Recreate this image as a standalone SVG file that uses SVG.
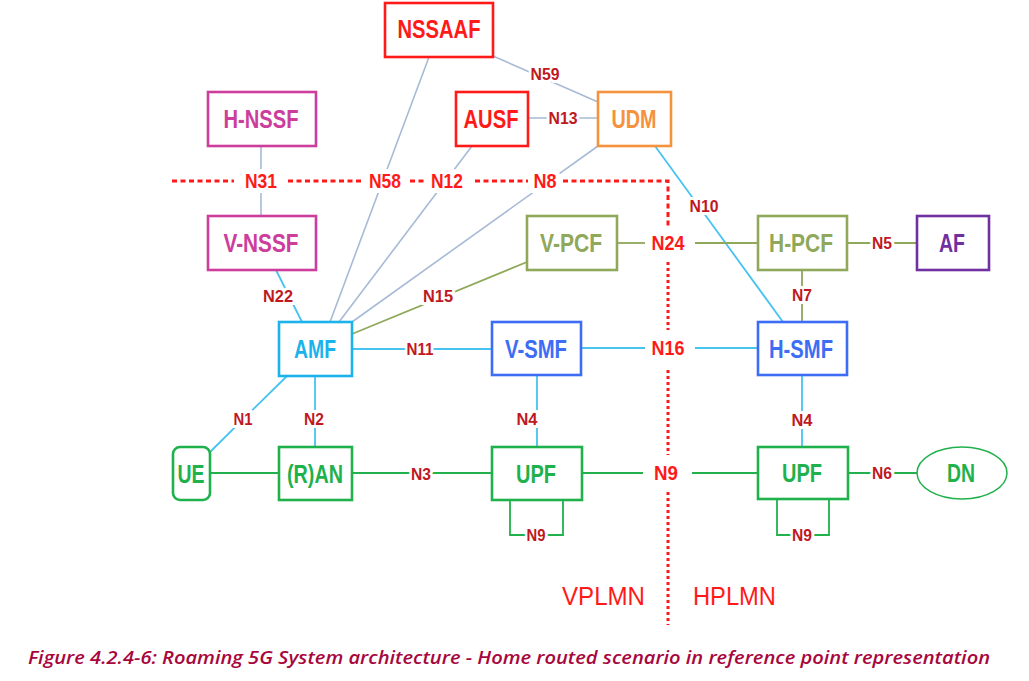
<svg xmlns="http://www.w3.org/2000/svg" width="1029" height="681" viewBox="0 0 1029 681">
<style>
.box{fill:#fff;stroke-width:2.6}
.nl{font-family:"Liberation Sans",Arial,sans-serif;font-weight:bold;font-size:25px;text-anchor:middle;dominant-baseline:central}
.il{font-family:"Liberation Sans",Arial,sans-serif;font-weight:bold;font-size:17px;text-anchor:middle;dominant-baseline:central;fill:#c0181f;stroke:#fff;stroke-width:6;paint-order:stroke}
.bl{font-family:"Liberation Sans",Arial,sans-serif;font-weight:bold;font-size:20px;text-anchor:middle;dominant-baseline:central;fill:#ff1a1a;stroke:#fff;stroke-width:10;paint-order:stroke}
.steel{stroke:#a7bad6;stroke-width:1.6;fill:none}
.cyan{stroke:#47c3f0;stroke-width:1.8;fill:none}
.olive{stroke:#8fa85a;stroke-width:1.8;fill:none}
.green{stroke:#22b14c;stroke-width:1.8;fill:none}
.bdr{stroke:#ff1a1a;stroke-width:3;fill:none;stroke-dasharray:5 3.5}
.bdrv{stroke:#ff1a1a;stroke-width:3;fill:none;stroke-dasharray:3 3}
</style>
<rect width="1029" height="681" fill="#fff"/>
<g id="connectors">
  <line class="steel" x1="493" y1="56" x2="598" y2="102"/>
  <line class="steel" x1="429" y1="57" x2="330" y2="322"/>
  <line class="steel" x1="472" y1="146" x2="339" y2="322"/>
  <line class="steel" x1="598" y1="146" x2="352" y2="322"/>
  <line class="steel" x1="528" y1="118" x2="598" y2="118"/>
  <line class="steel" x1="261" y1="146" x2="261" y2="216"/>
  <line class="cyan" x1="276" y1="270" x2="302" y2="322"/>
  <line class="cyan" x1="352" y1="349" x2="492" y2="349"/>
  <line class="cyan" x1="287" y1="376" x2="210" y2="452"/>
  <line class="cyan" x1="315" y1="376" x2="315" y2="447"/>
  <line class="cyan" x1="537" y1="376" x2="537" y2="447"/>
  <line class="cyan" x1="581" y1="348" x2="645" y2="348"/>
  <line class="cyan" x1="695" y1="348" x2="758" y2="348"/>
  <line class="cyan" x1="655" y1="146" x2="783" y2="322"/>
  <line class="cyan" x1="802" y1="375" x2="802" y2="447"/>
  <line class="olive" x1="352" y1="334" x2="527" y2="262"/>
  <line class="olive" x1="617" y1="243" x2="645" y2="243"/>
  <line class="olive" x1="695" y1="243" x2="758" y2="243"/>
  <line class="olive" x1="847" y1="243" x2="917" y2="243"/>
  <line class="olive" x1="802" y1="270" x2="802" y2="322"/>
  <line class="green" x1="210" y1="473" x2="279" y2="473"/>
  <line class="green" x1="352" y1="473" x2="492" y2="473"/>
  <line class="green" x1="582" y1="473" x2="643" y2="473"/>
  <line class="green" x1="692" y1="473" x2="758" y2="473"/>
  <line class="green" x1="848" y1="473" x2="917" y2="473"/>
  <polyline class="green" points="510,500 510,535 563,535 563,500"/>
  <polyline class="green" points="777,499 777,535 829,535 829,499"/>
  <g id="border">
    <line class="bdr" x1="172" y1="181" x2="234" y2="181"/>
    <line class="bdr" x1="288" y1="181" x2="362" y2="181"/>
    <line class="bdr" x1="410" y1="181" x2="424" y2="181"/>
    <line class="bdr" x1="475" y1="181" x2="528" y2="181"/>
    <polyline class="bdr" points="563,181 668,181 668,226"/>
    <line class="bdrv" x1="668" y1="262" x2="668" y2="330"/>
    <line class="bdrv" x1="668" y1="370" x2="668" y2="455"/>
    <line class="bdrv" x1="668" y1="492" x2="668" y2="625"/>
  </g>
  <g id="labels">
    <text class="il" x="545" y="74" textLength="29" lengthAdjust="spacingAndGlyphs">N59</text>
    <text class="il" x="563" y="118" textLength="29" lengthAdjust="spacingAndGlyphs">N13</text>
    <text class="il" x="278" y="296" textLength="30" lengthAdjust="spacingAndGlyphs">N22</text>
    <text class="il" x="438" y="296" textLength="30" lengthAdjust="spacingAndGlyphs">N15</text>
    <text class="il" x="420" y="349" textLength="27" lengthAdjust="spacingAndGlyphs">N11</text>
    <text class="il" x="704" y="206" textLength="29" lengthAdjust="spacingAndGlyphs">N10</text>
    <text class="il" x="882" y="243" textLength="20" lengthAdjust="spacingAndGlyphs">N5</text>
    <text class="il" x="802" y="295" textLength="20" lengthAdjust="spacingAndGlyphs">N7</text>
    <text class="il" x="243" y="419" textLength="19" lengthAdjust="spacingAndGlyphs">N1</text>
    <text class="il" x="314" y="419" textLength="20" lengthAdjust="spacingAndGlyphs">N2</text>
    <text class="il" x="527" y="419" textLength="21" lengthAdjust="spacingAndGlyphs">N4</text>
    <text class="il" x="421" y="474" textLength="20" lengthAdjust="spacingAndGlyphs">N3</text>
    <text class="il" x="536" y="535" textLength="19" lengthAdjust="spacingAndGlyphs">N9</text>
    <text class="il" x="802" y="420" textLength="21" lengthAdjust="spacingAndGlyphs">N4</text>
    <text class="il" x="882" y="473" textLength="20" lengthAdjust="spacingAndGlyphs">N6</text>
    <text class="il" x="802" y="535" textLength="20" lengthAdjust="spacingAndGlyphs">N9</text>
    <text class="bl" x="261" y="181" textLength="32" lengthAdjust="spacingAndGlyphs">N31</text>
    <text class="bl" x="385" y="181" textLength="32" lengthAdjust="spacingAndGlyphs">N58</text>
    <text class="bl" x="447" y="181" textLength="32" lengthAdjust="spacingAndGlyphs">N12</text>
    <text class="bl" x="545" y="181" textLength="23" lengthAdjust="spacingAndGlyphs">N8</text>
    <text class="bl" x="668" y="243" textLength="33" lengthAdjust="spacingAndGlyphs">N24</text>
    <text class="bl" x="668" y="348" textLength="33" lengthAdjust="spacingAndGlyphs">N16</text>
    <text class="bl" x="666" y="473" textLength="24" lengthAdjust="spacingAndGlyphs">N9</text>
  </g>
</g>
<g id="NSSAAF"><rect class="box" x="385" y="3" width="108" height="54" stroke="#ff1a1a"/><text class="nl" x="439" y="29" fill="#ff1a1a" textLength="83" lengthAdjust="spacingAndGlyphs">NSSAAF</text></g>
<g id="H-NSSF"><rect class="box" x="208" y="92" width="108" height="54" stroke="#cc3d9c"/><text class="nl" x="261" y="119" fill="#cc3d9c" textLength="75" lengthAdjust="spacingAndGlyphs">H-NSSF</text></g>
<g id="AUSF"><rect class="box" x="456" y="92" width="72" height="54" stroke="#ff1a1a"/><text class="nl" x="491" y="119" fill="#ff1a1a" textLength="55" lengthAdjust="spacingAndGlyphs">AUSF</text></g>
<g id="UDM"><rect class="box" x="598" y="92" width="73" height="54" stroke="#f5923e"/><text class="nl" x="634" y="119" fill="#f5923e" textLength="45" lengthAdjust="spacingAndGlyphs">UDM</text></g>
<g id="V-NSSF"><rect class="box" x="208" y="216" width="108" height="54" stroke="#cc3d9c"/><text class="nl" x="261" y="243" fill="#cc3d9c" textLength="75" lengthAdjust="spacingAndGlyphs">V-NSSF</text></g>
<g id="V-PCF"><rect class="box" x="527" y="216" width="90" height="54" stroke="#8fa85a"/><text class="nl" x="571" y="243" fill="#8fa85a" textLength="62" lengthAdjust="spacingAndGlyphs">V-PCF</text></g>
<g id="H-PCF"><rect class="box" x="758" y="216" width="89" height="54" stroke="#8fa85a"/><text class="nl" x="801" y="243" fill="#8fa85a" textLength="64" lengthAdjust="spacingAndGlyphs">H-PCF</text></g>
<g id="AF"><rect class="box" x="917" y="216" width="72" height="54" stroke="#7030a0"/><text class="nl" x="952" y="243" fill="#7030a0" textLength="26" lengthAdjust="spacingAndGlyphs">AF</text></g>
<g id="AMF"><rect class="box" x="279" y="322" width="73" height="54" stroke="#1cb3ec"/><text class="nl" x="315" y="349" fill="#1cb3ec" textLength="42" lengthAdjust="spacingAndGlyphs">AMF</text></g>
<g id="V-SMF"><rect class="box" x="492" y="322" width="89" height="53" stroke="#3d6df5"/><text class="nl" x="536" y="349" fill="#3d6df5" textLength="62" lengthAdjust="spacingAndGlyphs">V-SMF</text></g>
<g id="H-SMF"><rect class="box" x="758" y="322" width="89" height="53" stroke="#3d6df5"/><text class="nl" x="801" y="349" fill="#3d6df5" textLength="64" lengthAdjust="spacingAndGlyphs">H-SMF</text></g>
<g id="UE"><rect class="box" x="173" y="447" width="37" height="53" rx="7" stroke="#1fb14c"/><text class="nl" x="191" y="474" fill="#1fb14c" textLength="27" lengthAdjust="spacingAndGlyphs">UE</text></g>
<g id="RAN"><rect class="box" x="279" y="447" width="73" height="53" stroke="#1fb14c"/><text class="nl" x="315" y="474" fill="#1fb14c" textLength="56" lengthAdjust="spacingAndGlyphs">(R)AN</text></g>
<g id="V-UPF"><rect class="box" x="492" y="447" width="90" height="53" stroke="#1fb14c"/><text class="nl" x="536" y="474" fill="#1fb14c" textLength="40" lengthAdjust="spacingAndGlyphs">UPF</text></g>
<g id="H-UPF"><rect class="box" x="758" y="447" width="90" height="52" stroke="#1fb14c"/><text class="nl" x="802" y="473" fill="#1fb14c" textLength="40" lengthAdjust="spacingAndGlyphs">UPF</text></g>
<g id="DN"><ellipse cx="962" cy="473" rx="45" ry="26" fill="#fff" stroke="#1fb14c" stroke-width="1.5"/><text class="nl" x="961" y="473" fill="#1fb14c" textLength="28" lengthAdjust="spacingAndGlyphs">DN</text></g>
<g id="plmn">
  <text x="603.5" y="596" font-family="Liberation Sans,Arial,sans-serif" font-size="26" fill="#ff1a1a" text-anchor="middle" dominant-baseline="central" textLength="83" lengthAdjust="spacingAndGlyphs">VPLMN</text>
  <text x="734.5" y="596" font-family="Liberation Sans,Arial,sans-serif" font-size="26" fill="#ff1a1a" text-anchor="middle" dominant-baseline="central" textLength="83" lengthAdjust="spacingAndGlyphs">HPLMN</text>
</g>
<g id="caption"><text x="28" y="664" font-family="'Open Sans',sans-serif" font-style="italic" font-weight="600" font-size="18" fill="#a8073e" textLength="962" lengthAdjust="spacingAndGlyphs">Figure 4.2.4-6: Roaming 5G System architecture - Home routed scenario in reference point representation</text></g>
</svg>
